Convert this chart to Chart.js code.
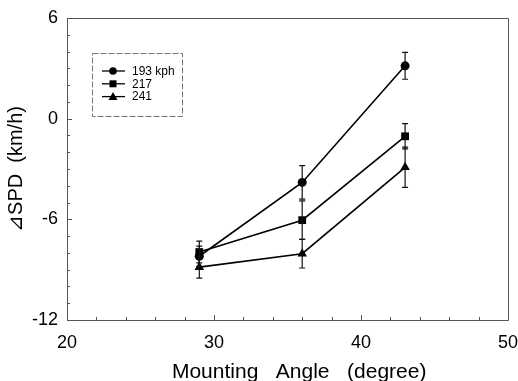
<!DOCTYPE html>
<html>
<head>
<meta charset="utf-8">
<script src="https://cdn.jsdelivr.net/npm/chart.js@4.4.0/dist/chart.umd.min.js"></script>
<style>
html,body{margin:0;padding:0;background:#fff;}
#wrap{width:518px;height:381px;position:relative;}
</style>
</head>
<body>
<div id="wrap"><canvas id="c" width="518" height="381"></canvas></div>
<script>
const angles = [29, 36, 43];
const series193 = [-8.2, -3.8, 3.15];
const series217 = [-7.95, -6.05, -1.05];
const series241 = [-8.85, -8.05, -2.9];
const err193 = [0.6, 1.0, 0.8];
const err217 = [0.65, 1.15, 0.75];
const err241 = [0.65, 0.85, 1.2];
const seriesLabels = ['193 kph', '217', '241'];
const xTicks = [20, 30, 40, 50];
const yTicks = [-12, -6, 0, 6];

const FONT = "'Liberation Sans', Arial, sans-serif";

function pts(vals){ return angles.map((a,i)=>({x:a,y:vals[i]})); }

const errorBars = {
  id:'errorBars',
  afterDatasetsDraw(chart){
    const ctx = chart.ctx, xs = chart.scales.x, ys = chart.scales.y;
    ctx.save();
    ctx.strokeStyle = '#111';
    ctx.lineWidth = 1.2;
    chart.data.datasets.forEach(ds=>{
      ds.data.forEach((p,i)=>{
        const e = ds.errors[i];
        const px = xs.getPixelForValue(p.x);
        const top = ys.getPixelForValue(p.y + e);
        const bot = ys.getPixelForValue(p.y - e);
        ctx.beginPath();
        ctx.moveTo(px, top); ctx.lineTo(px, bot);
        ctx.moveTo(px-3, top); ctx.lineTo(px+3, top);
        ctx.moveTo(px-3, bot); ctx.lineTo(px+3, bot);
        ctx.stroke();
      });
    });
    ctx.restore();
  }
};

const frame = {
  id:'frame',
  afterDraw(chart){
    const ctx = chart.ctx, a = chart.chartArea, xs = chart.scales.x, ys = chart.scales.y;
    ctx.save();
    ctx.strokeStyle = '#555';
    ctx.lineWidth = 1;
    ctx.beginPath();
    ctx.rect(a.left+0.5, a.top+0.5, a.right-a.left, a.bottom-a.top);
    ctx.stroke();
    ctx.beginPath();
    for(let v=xs.min; v<=xs.max; v+=2){
      const px = Math.round(xs.getPixelForValue(v))+0.5;
      const len = (v%10===0)?5:3;
      ctx.moveTo(px, a.bottom); ctx.lineTo(px, a.bottom-len);
    }
    for(let v=ys.min; v<=ys.max; v+=1){
      const py = Math.round(ys.getPixelForValue(v))+0.5;
      const len = (v%6===0)?5:3;
      ctx.moveTo(a.left, py); ctx.lineTo(a.left+len, py);
    }
    ctx.stroke();
    // legend box
    const lx = 92, ly = 53, lw = 90, lh = 63;
    ctx.strokeStyle = '#777';
    ctx.setLineDash([6,2]);
    ctx.strokeRect(lx+0.5, ly+0.5, lw, lh);
    ctx.setLineDash([]);
    chart.data.datasets.forEach((ds,i)=>{
      const y = ly + 18 + i*12.8;
      ctx.strokeStyle = '#000';
      ctx.lineWidth = 1.3;
      ctx.beginPath(); ctx.moveTo(lx+10, y); ctx.lineTo(lx+33, y); ctx.stroke();
      ctx.fillStyle = '#000';
      const cx = lx+21;
      ctx.beginPath();
      if(ds.pointStyle==='circle'){ ctx.arc(cx,y,3.8,0,Math.PI*2); }
      else if(ds.pointStyle==='rect'){ ctx.rect(cx-3.5,y-3.5,7,7); }
      else { ctx.moveTo(cx,y-4.5); ctx.lineTo(cx+4.5,y+3.5); ctx.lineTo(cx-4.5,y+3.5); ctx.closePath(); }
      ctx.fill();
      ctx.font = '12px ' + FONT;
      ctx.textBaseline = 'middle';
      ctx.textAlign = 'left';
      ctx.fillText(ds.label, lx+40, y+0.5);
    });
    ctx.restore();
  }
};

const common = {borderColor:'#000', backgroundColor:'#000', borderWidth:1.6, pointBorderColor:'#000', pointBackgroundColor:'#000', pointBorderWidth:0, showLine:true, tension:0};

new Chart(document.getElementById('c'), {
  type:'scatter',
  data:{
    datasets:[
      Object.assign({label:seriesLabels[0], data:pts(series193), errors:err193, pointStyle:'circle', pointRadius:4.5}, common),
      Object.assign({label:seriesLabels[1], data:pts(series217), errors:err217, pointStyle:'rect', pointRadius:5.5}, common),
      Object.assign({label:seriesLabels[2], data:pts(series241), errors:err241, pointStyle:'triangle', pointRadius:5.5}, common)
    ]
  },
  options:{
    responsive:false,
    animation:false,
    layout:{padding:{left:0,right:10,top:18,bottom:0}},
    plugins:{legend:{display:false}, tooltip:{enabled:false}},
    scales:{
      x:{
        type:'linear', min:20, max:50,
        afterBuildTicks(s){ s.ticks = xTicks.map(v=>({value:v})); },
        afterFit(s){ s.height = 61; s.paddingRight = 0; s.paddingLeft = 0; },
        grid:{display:false, drawTicks:false},
        border:{display:false},
        ticks:{color:'#000', font:{family:FONT, size:18}, padding:12, maxRotation:0},
        title:{display:true, text:'    Mounting   Angle   (degree)', color:'#000', font:{family:FONT, size:21, lineHeight:0.8}, padding:{top:0,bottom:0}}
      },
      y:{
        type:'linear', min:-12, max:6,
        afterBuildTicks(s){ s.ticks = yTicks.map(v=>({value:v})); },
        afterFit(s){ s.width = 67; s.paddingTop = 0; s.paddingBottom = 0; },
        grid:{display:false, drawTicks:false},
        border:{display:false},
        ticks:{color:'#000', font:{family:FONT, size:18}, padding:9},
        title:{display:true, text:'⊿SPD  (km/h)', color:'#000', font:{family:FONT, size:20}, padding:{top:4,bottom:0}}
      }
    }
  },
  plugins:[errorBars, frame]
});
</script>
</body>
</html>
